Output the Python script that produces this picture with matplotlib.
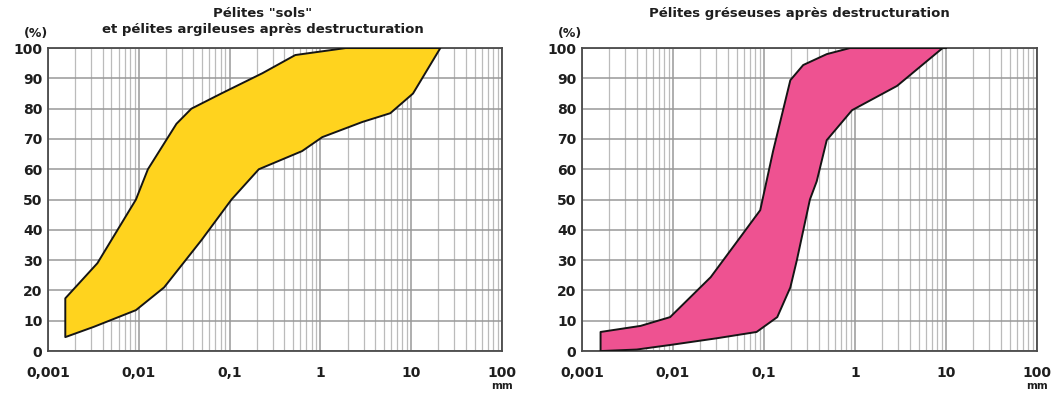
import matplotlib
matplotlib.use("Agg")
import matplotlib.pyplot as plt
from matplotlib.ticker import FixedLocator, NullFormatter, LogLocator

plt.rcParams['font.family'] = ['DejaVu Sans']

# Left panel (yellow) envelope
left_upper_x = [0.00155, 0.0035, 0.0093, 0.0126, 0.026, 0.038, 0.081, 0.23, 0.53, 1.9, 21]
left_upper_y = [17.4, 29, 50, 60, 75, 80, 85, 91.7, 97.7, 100, 100]
left_lower_x = [0.00155, 0.0032, 0.0093, 0.019, 0.049, 0.105, 0.21, 0.63, 1.05, 2.9, 5.9, 10.5, 21]
left_lower_y = [4.6, 8, 13.5, 21, 36.6, 50, 60, 66, 70.6, 75.6, 78.5, 85, 100]

# Right panel (pink) envelope
right_upper_x = [0.0016, 0.0044, 0.0093, 0.026, 0.055, 0.091, 0.126, 0.195, 0.27, 0.49, 0.88, 10]
right_upper_y = [6.3, 8.3, 11.2, 24.4, 37.6, 46.5, 66, 89.4, 94.4, 98, 100, 100]
right_lower_x = [0.0016, 0.004, 0.0093, 0.03, 0.083, 0.14, 0.195, 0.23, 0.32, 0.38, 0.49, 0.93, 2.9, 9.2]
right_lower_y = [0, 0.5, 2, 4.2, 6.3, 11.2, 21, 30, 50, 56, 69.6, 79.5, 87.5, 100]

titles = ['Pélites "sols"\net pélites argileuses après destructuration',
          'Pélites gréseuses après destructuration']
colors = ['#FFD31E', '#EE5291']
x_ticks = [0.001, 0.01, 0.1, 1, 10, 100]
x_labels = ['0,001', '0,01', '0,1', '1', '10', '100']
y_ticks = list(range(0, 101, 10))

fig = plt.figure(figsize=(10.53, 3.94), dpi=100)
ax1 = fig.add_axes([0.0456, 0.109, 0.431, 0.769])
ax2 = fig.add_axes([0.5527, 0.109, 0.432, 0.769])

panels = [(ax1, left_upper_x, left_upper_y, left_lower_x, left_lower_y),
          (ax2, right_upper_x, right_upper_y, right_lower_x, right_lower_y)]
title_x = [263 / 1053, 799 / 1053]

txt = '#1e1e1e'
for i, (ax, ux, uy, lx, ly) in enumerate(panels):
    px = list(ux) + list(lx[::-1])
    py = list(uy) + list(ly[::-1])
    ax.fill(px, py, facecolor=colors[i], edgecolor='#151515', linewidth=1.4,
            joinstyle='round', zorder=3)
    ax.set_xscale('log')
    ax.set_xlim(0.001, 100)
    ax.set_ylim(0, 100)
    ax.xaxis.set_major_locator(FixedLocator(x_ticks))
    ax.set_xticklabels(x_labels)
    ax.xaxis.set_minor_locator(LogLocator(base=10, subs=range(2, 10)))
    ax.xaxis.set_minor_formatter(NullFormatter())
    ax.set_yticks(y_ticks)
    ax.grid(True, which='major', color='#999999', linewidth=1.1, zorder=1)
    ax.grid(True, which='minor', axis='x', color='#bbbbbb', linewidth=0.9, zorder=1)
    ax.set_axisbelow(True)
    for s in ax.spines.values():
        s.set_color('#4a4a4a')
        s.set_linewidth(1.3)
    ax.tick_params(which='both', length=0)
    ax.tick_params(axis='x', pad=11)
    ax.tick_params(axis='y', pad=4)
    for lab in ax.get_xticklabels() + ax.get_yticklabels():
        lab.set_fontweight('bold')
        lab.set_fontsize(10)
        lab.set_color(txt)
    ax.text(-0.027, 1.028, '(%)', transform=ax.transAxes, fontsize=9,
            fontweight='bold', ha='center', va='bottom', color=txt)
    ax.text(1.0, -0.10, 'mm', transform=ax.transAxes, fontsize=7.5,
            fontweight='bold', ha='center', va='top', color=txt)
    fig.text(title_x[i], 1 - 7 / 394, titles[i], fontsize=9.5, fontweight='bold',
             ha='center', va='top', color=txt, linespacing=1.35)

fig.savefig('out.png', dpi=100)
